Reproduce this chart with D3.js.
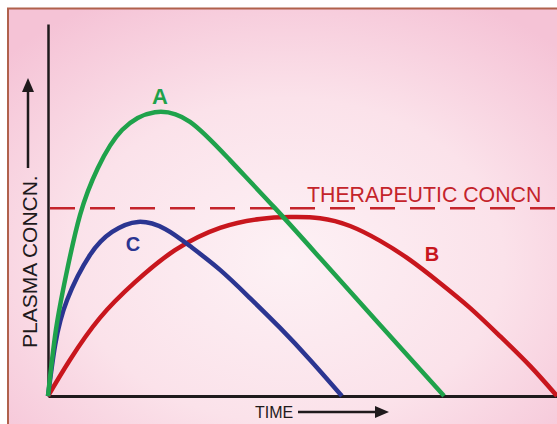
<!DOCTYPE html>
<html><head><meta charset="utf-8">
<script src="https://cdn.jsdelivr.net/npm/d3@7"></script>
<style>body{margin:0;background:#fff}svg{display:block}</style>
</head><body>
<svg id="c" width="557" height="424"></svg>
<script>
// time (h) and plasma concentration (arbitrary units, 0-100)
const timeA = [0,0.31,0.71,1.26,1.96,2.91,4.20,5.58,7.15,8.92,10.69,13.05,15.56];
const concA = [0,17.7,32.5,48.7,61.3,71.5,76.3,73.7,63.4,50.5,37.1,19.1,0];
const timeB = [0,0.86,2.04,3.42,4.99,6.76,8.33,9.51,10.69,11.87,13.05,14.22,15.40,16.58,17.76,18.94,20.0];
const concB = [0,9.7,21.0,30.6,39.2,45.2,47.6,48.1,47.8,45.7,41.7,36.6,30.4,23.7,16.1,8.1,0];
const timeC = [0,0.28,0.75,1.65,2.52,3.54,4.60,5.58,6.76,7.94,9.12,10.30,11.55];
const concC = [0,13.7,25.8,37.9,44.1,46.8,44.9,40.3,33.9,26.3,18.3,9.7,0];
const therapeutic = 50.5;
const labels = {A:"A", B:"B", C:"C", thr:"THERAPEUTIC CONCN", xTitle:"TIME", yTitle:"PLASMA CONCN."};

const svg = d3.select("#c");
const defs = svg.append("defs");
const g1 = defs.append("radialGradient").attr("id","bg").attr("cx","0.5").attr("cy","0.6").attr("r","0.7");
g1.append("stop").attr("offset","0").attr("stop-color","#fdf1f5");
g1.append("stop").attr("offset","0.55").attr("stop-color","#fbe2ea");
g1.append("stop").attr("offset","1").attr("stop-color","#f5c3d6");
svg.append("rect").attr("x",8).attr("y",8).attr("width",560).attr("height",420).attr("fill","url(#bg)");
svg.append("path").attr("d","M8,430 V8.5 H560").attr("fill","none").attr("stroke","#b0614c").attr("stroke-width",2);

const x = d3.scaleLinear().domain([0,20]).range([48,557]);
const y = d3.scaleLinear().domain([0,100]).range([396,24]);

// axes
svg.append("g").attr("transform","translate(48,0)")
  .call(d3.axisLeft(y).tickValues([]).tickSizeOuter(0))
  .call(s=>s.select(".domain").attr("stroke","#1f1a1c").attr("stroke-width",2.5));
svg.append("g").attr("transform","translate(0,396)")
  .call(d3.axisBottom(x.copy().domain([-0.12,20])).tickValues([]).tickSizeOuter(0))
  .call(s=>s.select(".domain").attr("stroke","#1f1a1c").attr("stroke-width",3));

const lf = "Liberation Sans, Arial, sans-serif";
// therapeutic dashed line
svg.append("line").attr("x1",x(0)+2).attr("x2",x(20)).attr("y1",y(therapeutic)).attr("y2",y(therapeutic))
  .attr("stroke","#c4242b").attr("stroke-width",2.5).attr("stroke-dasharray","25,15");
svg.append("text").attr("x",307).attr("y",y(therapeutic)-6).text(labels.thr)
  .attr("font-family",lf).attr("font-size",21.3).attr("fill","#c4242b");

const line = d3.line().x(d=>x(d[0])).y(d=>y(d[1])).curve(d3.curveNatural);
const series = [
  {t:timeB,c:concB,col:"#c8161d"},
  {t:timeC,c:concC,col:"#2b3591"},
  {t:timeA,c:concA,col:"#1fa24b"}
];
series.forEach(s=>{
  svg.append("path").datum(d3.zip(s.t,s.c)).attr("d",line)
    .attr("fill","none").attr("stroke",s.col).attr("stroke-width",4.5).attr("stroke-linecap","butt");
});

svg.append("text").attr("x",160).attr("y",104).attr("text-anchor","middle").text(labels.A)
  .attr("font-family",lf).attr("font-weight","bold").attr("font-size",22).attr("fill","#1fa24b");
svg.append("text").attr("x",133).attr("y",251).attr("text-anchor","middle").text(labels.C)
  .attr("font-family",lf).attr("font-weight","bold").attr("font-size",20).attr("fill","#2b3591");
svg.append("text").attr("x",432).attr("y",261).attr("text-anchor","middle").text(labels.B)
  .attr("font-family",lf).attr("font-weight","bold").attr("font-size",20).attr("fill","#c8161d");

// axis titles with arrows
svg.append("text").attr("transform","translate(37,348) rotate(-90)").text(labels.yTitle)
  .attr("font-family",lf).attr("font-size",21).attr("fill","#1f1a1c");
svg.append("line").attr("x1",28).attr("x2",28).attr("y1",168).attr("y2",88).attr("stroke","#1f1a1c").attr("stroke-width",2.5);
svg.append("path").attr("d","M28,78 L34,92 L22,92 Z").attr("fill","#1f1a1c");

svg.append("text").attr("x",255).attr("y",418).text(labels.xTitle)
  .attr("font-family",lf).attr("font-size",16).attr("fill","#1f1a1c");
svg.append("line").attr("x1",298).attr("x2",378).attr("y1",412).attr("y2",412).attr("stroke","#1f1a1c").attr("stroke-width",2.5);
svg.append("path").attr("d","M389,412 L375,406 L375,418 Z").attr("fill","#1f1a1c");
</script>
</body></html>
